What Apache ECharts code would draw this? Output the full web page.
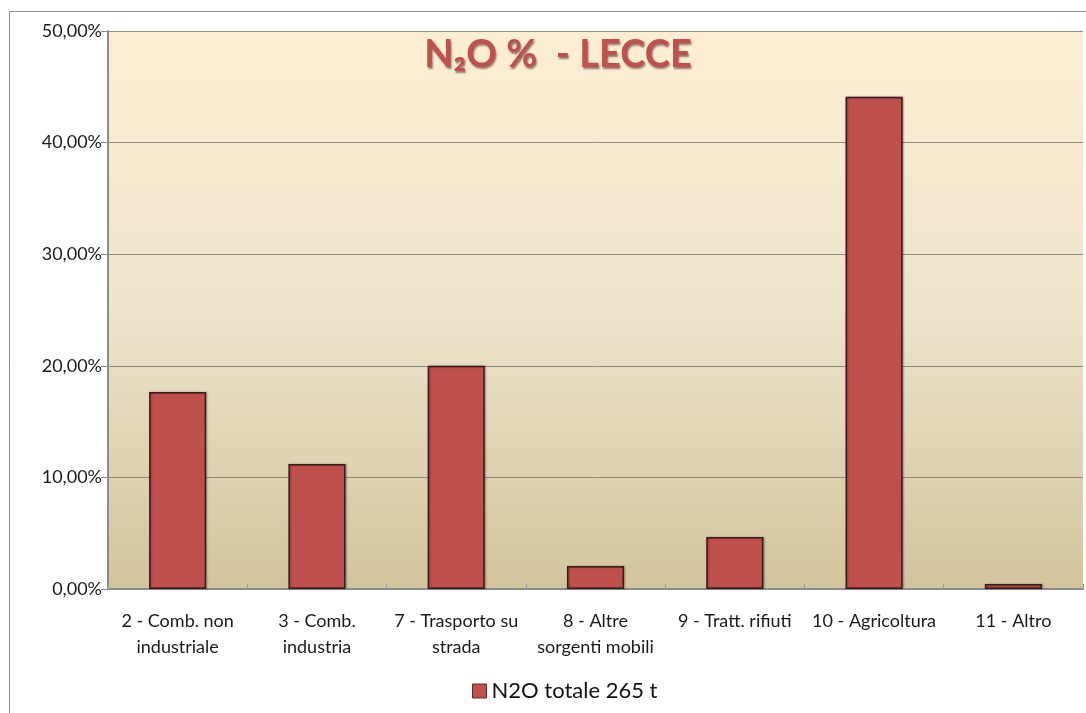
<!DOCTYPE html>
<html>
<head>
<meta charset="utf-8">
<script src="https://cdn.jsdelivr.net/npm/echarts@6/dist/echarts.min.js"></script>
<style>
  html, body { margin: 0; padding: 0; background: #ffffff; }
  #chart { width: 1086px; height: 713px; }
</style>
</head>
<body>
<div id="chart"></div>
<script>
const categories = [
  '2 - Comb. non\nindustriale',
  '3 - Comb.\nindustria',
  '7 - Trasporto su\nstrada',
  '8 - Altre\nsorgenti mobili',
  '9 - Tratt. rifiuti',
  '10 - Agricoltura',
  '11 - Altro'
]
const shares = [17.65, 11.2, 20.0, 2.05, 4.65, 44.1, 0.45]
const yTicks = [0, 10, 20, 30, 40, 50]
const seriesName = 'N2O totale 265 t'

const FONT = 'Lato, "Open Sans", sans-serif'
const BAR = '#c0504d'

const chart = echarts.init(document.getElementById('chart'))

chart.setOption({
  backgroundColor: '#ffffff',
  animation: false,
  title: {
    text: 'N₂O %  - LECCE',
    left: 553,
    top: 31,
    textAlign: 'center',
    textStyle: {
      color: BAR,
      fontFamily: FONT,
      fontWeight: 'bold',
      fontSize: 38,
      textShadowColor: 'rgba(60,20,20,0.55)',
      textShadowBlur: 2,
      textShadowOffsetX: 1,
      textShadowOffsetY: 2
    }
  },
  graphic: [
    {
      type: 'rect',
      shape: { x: 9.5, y: 11.5, width: 1100, height: 720 },
      style: { fill: 'none', stroke: '#8c8c8c', lineWidth: 1 },
      z: -1
    }
  ],
  legend: {
    bottom: 6,
    left: 467,
    itemWidth: 14,
    itemHeight: 14,
    itemGap: 4,
    icon: 'rect',
    textStyle: { color: '#111', fontFamily: FONT, fontSize: 22 },
    data: [{ name: seriesName, itemStyle: { color: BAR, borderColor: '#5a2a28', borderWidth: 1 } }]
  },
  grid: {
    left: 108,
    right: 3,
    top: 31,
    bottom: 124,
    show: true,
    borderWidth: 0,
    backgroundColor: new echarts.graphic.LinearGradient(0, 0, 0, 1, [
      { offset: 0, color: '#fdeed3' },
      { offset: 0.5, color: '#ede4cc' },
      { offset: 1, color: '#d3c49e' }
    ])
  },
  xAxis: {
    type: 'category',
    data: categories,
    axisLine: { lineStyle: { color: '#8c8c8c', width: 2 } },
    axisTick: { show: true, inside: true, length: 5, lineStyle: { color: '#9a9a9a' } },
    axisLabel: {
      color: '#1a1a1a',
      fontFamily: FONT,
      fontSize: 18,
      lineHeight: 26,
      margin: 19,
      interval: 0
    }
  },
  yAxis: {
    type: 'value',
    min: 0,
    max: 50,
    interval: 10,
    axisLine: { show: true, lineStyle: { color: '#8c8c8c', width: 2 } },
    axisTick: { show: true, length: 7, lineStyle: { color: '#8c8c8c' } },
    axisLabel: {
      color: '#1a1a1a',
      fontFamily: FONT,
      fontSize: 18,
      margin: 6,
      formatter: v => yTicks.includes(v) ? v.toFixed(2).replace('.', ',') + '%' : ''
    },
    splitLine: { show: true, lineStyle: { color: '#8f8a7e', width: 1 } }
  },
  series: [
    {
      name: seriesName,
      type: 'bar',
      data: shares,
      barWidth: '41%',
      itemStyle: {
        color: BAR,
        borderColor: '#3a1c1b',
        borderWidth: 1.5,
        shadowColor: 'rgba(0,0,0,0.3)',
        shadowBlur: 2,
        shadowOffsetX: 1,
        shadowOffsetY: 0
      }
    }
  ]
})
</script>
</body>
</html>
